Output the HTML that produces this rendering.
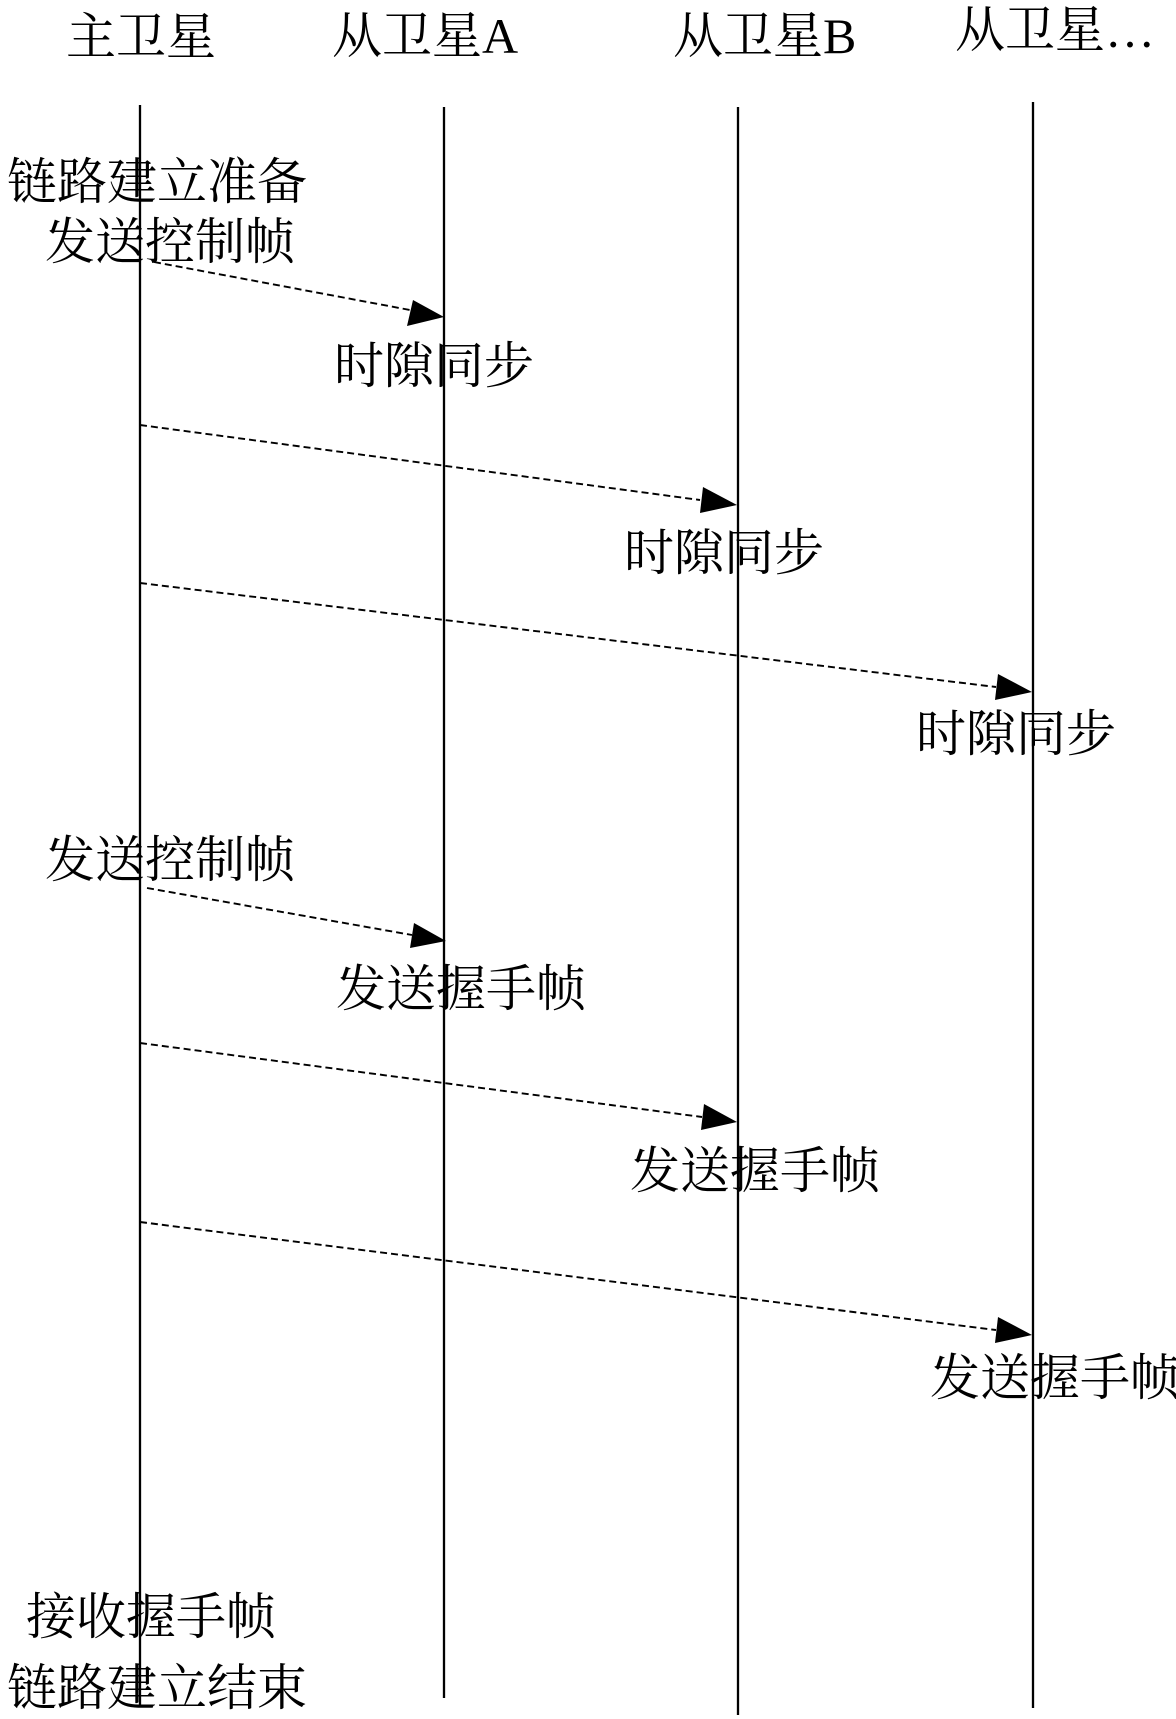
<!DOCTYPE html>
<html><head><meta charset="utf-8"><style>
html,body{margin:0;padding:0;background:#fff;}
svg{display:block;}
text{font-family:"Liberation Serif","Noto Serif CJK SC",serif;font-size:50px;fill:#000;dominant-baseline:central;}
</style></head><body>
<svg width="1176" height="1719" viewBox="0 0 1176 1719" xmlns="http://www.w3.org/2000/svg">
<g stroke="#000" stroke-width="2.3">
<line x1="140" y1="105" x2="140" y2="1705"/>
<line x1="444" y1="107" x2="444" y2="1698"/>
<line x1="738" y1="107" x2="738" y2="1715"/>
<line x1="1033" y1="102" x2="1033" y2="1708"/>
</g>
<g stroke="#000" stroke-width="1.9" stroke-dasharray="7,4" fill="none">
<line x1="154" y1="262" x2="410" y2="310"/>
<line x1="140" y1="425" x2="700" y2="500"/>
<line x1="140" y1="583" x2="996" y2="687"/>
<line x1="147" y1="888" x2="412" y2="935"/>
<line x1="140" y1="1043" x2="702" y2="1117"/>
<line x1="140" y1="1222" x2="996" y2="1330"/>
</g>
<g fill="#000">
<polygon points="444,317 407,326 413,300"/>
<polygon points="737,505 700,513 703,487"/>
<polygon points="1032,692 995,700 998,674"/>
<polygon points="446,941 410,948 414,923"/>
<polygon points="737,1122 701,1130 704,1104"/>
<polygon points="1032,1335 995,1343 998,1317"/>
</g>
<text x="66" y="37">主卫星</text>
<text x="332" y="36">从卫星A</text>
<text x="673" y="36">从卫星B</text>
<text x="955" y="30">从卫星…</text>
<text x="7" y="182">链路建立准备</text>
<text x="45" y="242">发送控制帧</text>
<text x="334" y="366">时隙同步</text>
<text x="624" y="553">时隙同步</text>
<text x="916" y="734">时隙同步</text>
<text x="45" y="860">发送控制帧</text>
<text x="336" y="989">发送握手帧</text>
<text x="630" y="1171">发送握手帧</text>
<text x="930" y="1378">发送握手帧</text>
<text x="26" y="1617">接收握手帧</text>
<text x="7" y="1688">链路建立结束</text>
</svg>
</body></html>
